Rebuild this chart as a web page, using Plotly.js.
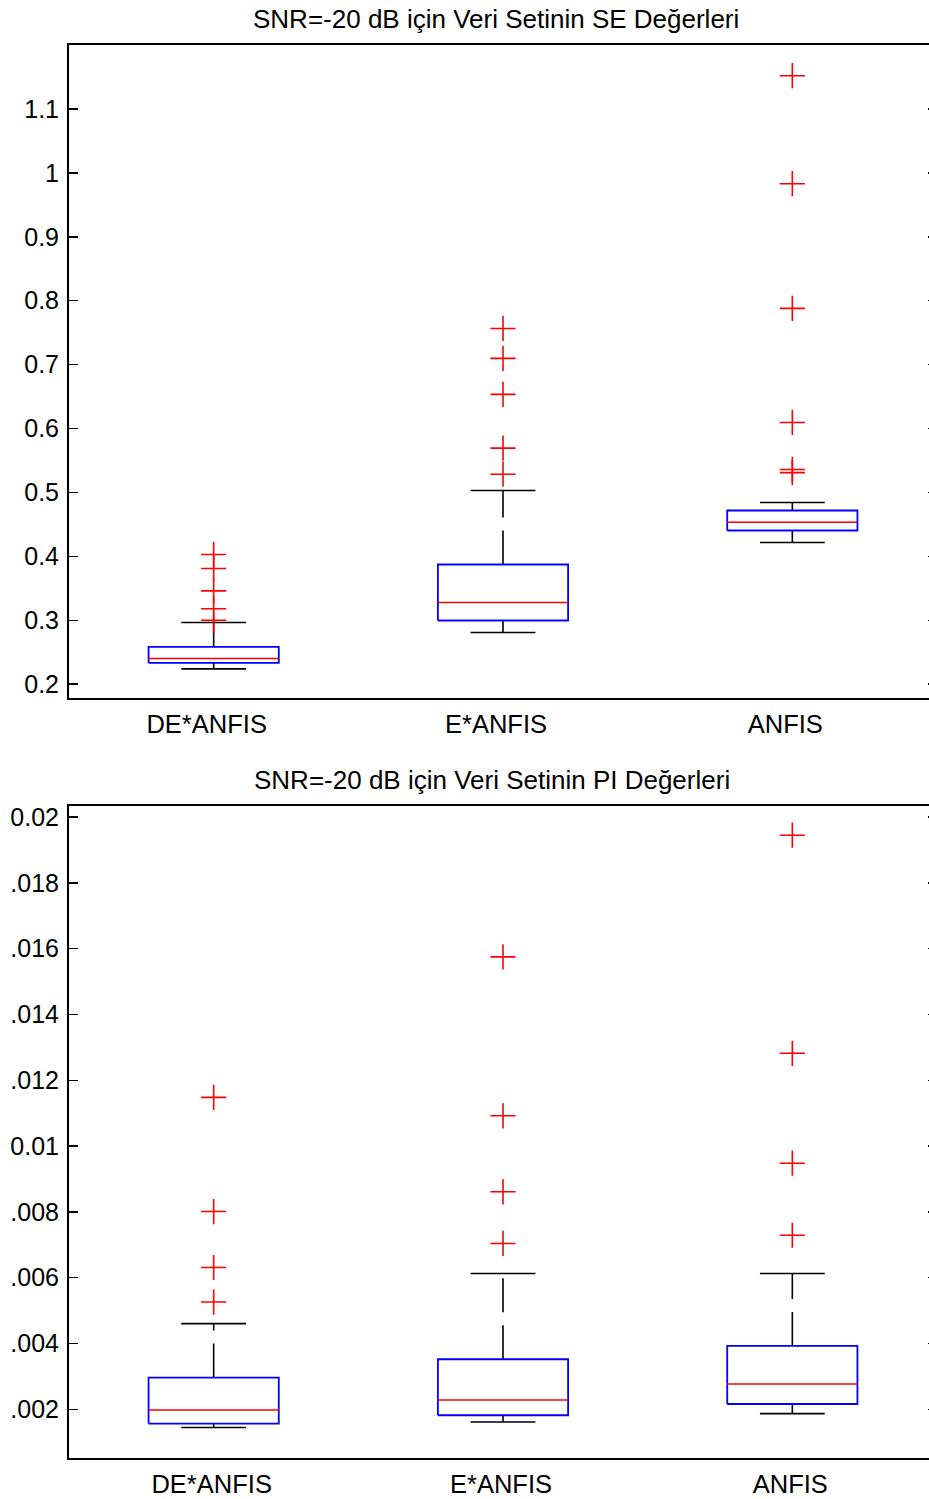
<!DOCTYPE html>
<html>
<head>
<meta charset="utf-8">
<script src="https://cdn.plot.ly/plotly-3.0.1.min.js"></script>
<style>
html, body { margin: 0; padding: 0; background: #fff; overflow: hidden; }
#chart { width: 937px; height: 1499px; }
</style>
</head>
<body>
<div id="chart"></div>
<script>
// ---------- data ----------
const categories = ["DE*ANFIS", "E*ANFIS", "ANFIS"];
const categoryPositions = [1, 2, 3];

// SE values (top panel)
const seLowerWhisker = [0.2240, 0.2809, 0.4218];
const seQ1           = [0.2333, 0.2997, 0.4405];
const seMedian       = [0.2402, 0.3279, 0.4535];
const seQ3           = [0.2584, 0.3873, 0.4718];
const seUpperWhisker = [0.2966, 0.5030, 0.4843];
const seOutliersDE    = [0.300, 0.318, 0.346, 0.381, 0.403];
const seOutliersE     = [0.5286, 0.5693, 0.6534, 0.7097, 0.7566];
const seOutliersANFIS = [0.531, 0.536, 0.6095, 0.788, 0.983, 1.152];
const seTickVals = [0.2, 0.3, 0.4, 0.5, 0.6, 0.7, 0.8, 0.9, 1.0, 1.1];
const seTickText = ["0.2", "0.3", "0.4", "0.5", "0.6", "0.7", "0.8", "0.9", "1", "1.1"];

// PI values (bottom panel)
const piLowerWhisker = [0.001444, 0.001614, 0.001869];
const piQ1           = [0.001565, 0.001818, 0.002161];
const piMedian       = [0.001980, 0.002283, 0.002769];
const piQ3           = [0.002963, 0.003520, 0.003925];
const piUpperWhisker = [0.004605, 0.006126, 0.006126];
const piOutliersDE    = [0.00526, 0.00631, 0.00801, 0.01148];
const piOutliersE     = [0.00704, 0.00861, 0.01092, 0.01575];
const piOutliersANFIS = [0.00729, 0.00948, 0.01282, 0.01945];
const piTickVals = [0.002, 0.004, 0.006, 0.008, 0.010, 0.012, 0.014, 0.016, 0.018, 0.020];
const piTickText = [".002", ".004", ".006", ".008", "0.01", ".012", ".014", ".016", ".018", "0.02"];

const titleSE = "SNR=-20 dB için Veri Setinin SE Değerleri";
const titlePI = "SNR=-20 dB için Veri Setinin PI Değerleri";

// ---------- building ----------
const BOX_HALF = 0.225;
const CAP_HALF = 0.112;
const FONT = "Liberation Sans, Arial, Helvetica, sans-serif";

function boxplotTraces(lw, q1, med, q3, uw, outlierSets, xa, ya) {
  const bx = [], by = [], mx = [], my = [], wx = [], wy = [], cx = [], cy = [], ox = [], oy = [];
  categoryPositions.forEach((p, i) => {
    bx.push(p - BOX_HALF, p + BOX_HALF, p + BOX_HALF, p - BOX_HALF, p - BOX_HALF, null);
    by.push(q1[i], q1[i], q3[i], q3[i], q1[i], null);
    mx.push(p - BOX_HALF, p + BOX_HALF, null);
    my.push(med[i], med[i], null);
    wx.push(p, p, null, p, p, null);
    wy.push(q3[i], uw[i], null, q1[i], lw[i], null);
    cx.push(p - CAP_HALF, p + CAP_HALF, null, p - CAP_HALF, p + CAP_HALF, null);
    cy.push(uw[i], uw[i], null, lw[i], lw[i], null);
    outlierSets[i].forEach(v => { ox.push(p); oy.push(v); });
  });
  return [
    { x: wx, y: wy, xaxis: xa, yaxis: ya, mode: "lines", connectgaps: false, hoverinfo: "skip",
      line: { color: "#000", width: 1.6, dash: "34px,13px" } },
    { x: cx, y: cy, xaxis: xa, yaxis: ya, mode: "lines", connectgaps: false, hoverinfo: "skip",
      line: { color: "#000", width: 1.6 } },
    { x: bx, y: by, xaxis: xa, yaxis: ya, mode: "lines", connectgaps: false, hoverinfo: "skip",
      line: { color: "#0000ff", width: 1.8 } },
    { x: mx, y: my, xaxis: xa, yaxis: ya, mode: "lines", connectgaps: false, hoverinfo: "skip",
      line: { color: "#ff0000", width: 1.5 } },
    { x: ox, y: oy, xaxis: xa, yaxis: ya, mode: "markers", hoverinfo: "skip",
      marker: { symbol: "cross-thin", size: 18, color: "#ff0000", line: { color: "#ff0000", width: 1.6 } } }
  ];
}

const data = [].concat(
  boxplotTraces(seLowerWhisker, seQ1, seMedian, seQ3, seUpperWhisker,
                [seOutliersDE, seOutliersE, seOutliersANFIS], "x", "y"),
  boxplotTraces(piLowerWhisker, piQ1, piMedian, piQ3, piUpperWhisker,
                [piOutliersDE, piOutliersE, piOutliersANFIS], "x2", "y2")
);

function xAxis(anchor, shift) {
  return {
    anchor: anchor, domain: [0, 1], range: [0.5, 3.5],
    tickmode: "array", tickvals: categoryPositions, ticktext: categories,
    ticks: "", showline: true, linecolor: "#000", linewidth: 2, mirror: true,
    showgrid: false, zeroline: false, fixedrange: true,
    tickfont: { family: FONT, size: 25.5, color: "#000" },
    ticklabelstandoff: 2, ticklabelshift: shift
  };
}
function yAxis(anchor, domain, range, vals, text) {
  return {
    anchor: anchor, domain: domain, range: range,
    tickmode: "array", tickvals: vals, ticktext: text,
    ticks: "inside", ticklen: 9, tickwidth: 1.5, tickcolor: "#000",
    showline: true, linecolor: "#000", linewidth: 2, mirror: "ticks",
    showgrid: false, zeroline: false, fixedrange: true,
    tickfont: { family: FONT, size: 25, color: "#000" },
    ticklabelstandoff: 3
  };
}

const layout = {
  width: 937, height: 1499,
  margin: { l: 69, r: 0, t: 0, b: 0 },
  paper_bgcolor: "#fff", plot_bgcolor: "#fff",
  showlegend: false,
  xaxis: xAxis("y", -7),
  yaxis: yAxis("x", [0.53416, 0.96998], [0.178, 1.2], seTickVals, seTickText),
  xaxis2: xAxis("y2", -2),
  yaxis2: yAxis("x2", [0.02715, 0.46198], [0.00051, 0.020322], piTickVals, piTickText),
  annotations: [
    { text: titleSE, xref: "paper", yref: "paper", x: 0.4919, y: 0.98732,
      xanchor: "center", yanchor: "middle", showarrow: false,
      font: { family: FONT, size: 26, color: "#000" } },
    { text: titlePI, xref: "paper", yref: "paper", x: 0.4873, y: 0.47965,
      xanchor: "center", yanchor: "middle", showarrow: false,
      font: { family: FONT, size: 26, color: "#000" } }
  ]
};

Plotly.newPlot("chart", data, layout, { staticPlot: true, displayModeBar: false });
</script>
</body>
</html>
